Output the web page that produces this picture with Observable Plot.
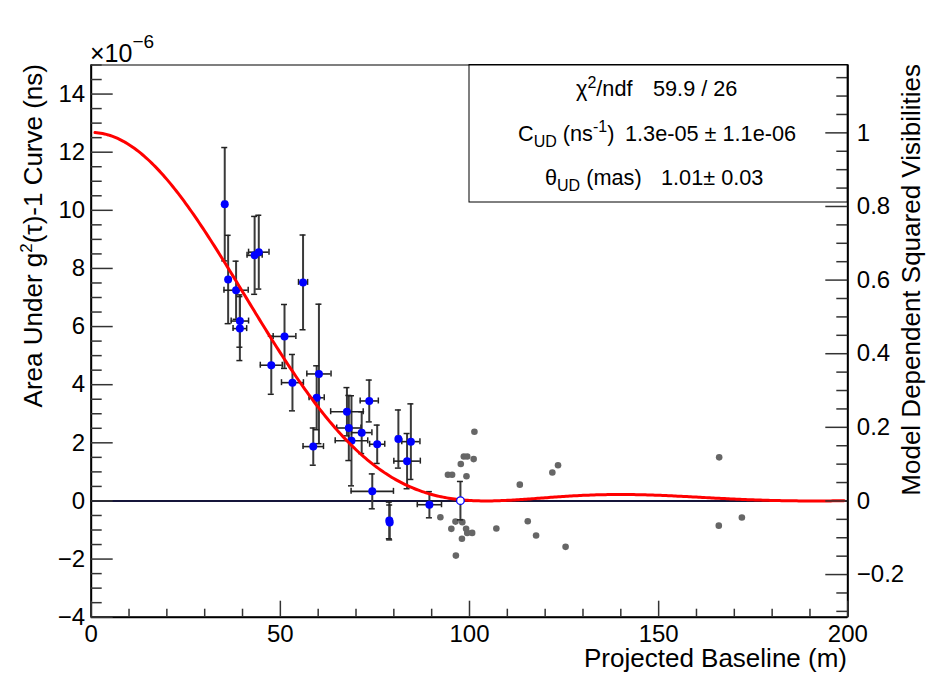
<!DOCTYPE html>
<html><head><meta charset="utf-8">
<script src="https://cdn.jsdelivr.net/npm/d3@7"></script>
<script src="https://cdn.jsdelivr.net/npm/@observablehq/plot@0.6"></script>
<style>
html,body{margin:0;padding:0;background:#fff;overflow:hidden;}
#chart svg{display:block;}
</style>
</head><body><div id="chart"></div>
<script>
// ---- Data (y in units of 1e-6 ns) ----
const blueX  = [35.3, 36.2, 38.3, 39.3, 39.3, 43.2, 44.3, 56.0, 51.1, 47.6, 53.2, 60.2, 59.6, 58.7, 67.6, 73.5, 68.1, 71.5, 68.8, 75.6, 81.2, 84.5, 83.5, 74.3, 78.8, 78.9, 89.4];
const blueY  = [10.21, 7.62, 7.25, 6.19, 5.93, 8.45, 8.56, 7.52, 5.66, 4.67, 4.07, 4.37, 3.55, 1.87, 3.07, 3.44, 2.51, 2.35, 2.07, 1.95, 2.13, 2.04, 1.37, 0.33, -0.67, -0.74, -0.13];
const blueEY = [1.95, 1.52, 1.0, 0.9, 1.1, 1.34, 1.27, 1.63, 1.1, 1.0, 0.97, 2.4, 1.1, 0.64, 0.83, 0.72, 1.12, 0.72, 1.55, 0.66, 1.0, 1.3, 0.95, 0.6, 0.63, 0.6, 0.45];
const blueEX = [0.5, 0.3, 3.2, 2.3, 1.8, 2.0, 2.7, 1.2, 3.0, 2.9, 2.9, 3.2, 2.0, 2.7, 4.3, 2.4, 3.2, 2.7, 4.3, 2.0, 0.5, 2.4, 3.5, 5.6, 0.3, 0.3, 3.2];

const openX = [97.6];
const openY = [0.01];
const openEY = [0.66];

const grayX = [101.3, 98.5, 99.4, 101.1, 97.7, 94.3, 95.4, 99.2, 113.3, 121.9, 123.4, 92.3, 96.3, 98.1, 95.2, 99.1, 99.4, 100.7, 107.1, 115.4, 117.6, 98.0, 96.4, 125.4, 166.0, 165.9, 172.0];
const grayY = [2.38, 1.53, 1.53, 1.44, 1.27, 0.90, 0.90, 0.85, 0.56, 0.98, 1.23, -0.56, -0.71, -0.73, -0.96, -0.96, -1.10, -1.10, -0.95, -0.70, -1.19, -1.30, -1.88, -1.58, 1.50, -0.85, -0.57];

// fit parameters (uniform disk)
const fitC = 12.68;        // 1e-6 ns, amplitude
const thetaMas = 1.01;     // angular diameter
const lambdaNm = 419;      // wavelength
const fitRange = [1, 199];

// axes
const xMajor = [0, 50, 100, 150, 200];
const yMajor = [-4, -2, 0, 2, 4, 6, 8, 10, 12, 14];
const rightMajor = [-0.2, 0, 0.2, 0.4, 0.6, 0.8, 1];
const rightScale = 12.665; // left units per 1 right-axis unit

// ---- build tables ----
const blue = blueX.map((x, i) => ({x, y: blueY[i], ex: blueEX[i], ey: blueEY[i]}));
const open = openX.map((x, i) => ({x, y: openY[i], ey: openEY[i]}));
const gray = grayX.map((x, i) => ({x, y: grayY[i]}));

function besselJ1(u) {
  let sum = 0, term = u / 2;
  for (let k = 0; k < 40; k++) { sum += term; term *= -(u * u / 4) / ((k + 1) * (k + 2)); }
  return sum;
}
const thetaRad = thetaMas * Math.PI / (180 * 3600 * 1000);
function model(b) {
  const u = Math.PI * b * thetaRad / (lambdaNm * 1e-9);
  const v = u === 0 ? 1 : 2 * besselJ1(u) / u;
  return fitC * v * v;
}
const fitCurve = d3.range(fitRange[0], fitRange[1] + 1e-9, 0.5).map(b => ({x: b, y: model(b)}));

const xMinor = d3.range(0, 201, 10).filter(v => v % 50 !== 0);
const yMinor = d3.range(-4, 15.01, 0.5).filter(v => v % 2 !== 0);
const rMinor = d3.range(-0.3, 1.151, 0.05).map(v => Math.round(v * 100) / 100)
  .filter(v => Math.abs(Math.round(v * 5) - v * 5) > 1e-6);

// ---- layout ----
const W = 931, H = 677, mL = 90.7, mR = 83.7, mT = 64.5, mB = 60.3;
const innerW = W - mL - mR, innerH = H - mT - mB;
const font = "Liberation Sans, Arial, Helvetica, sans-serif";
const minus = v => (v < 0 ? "\u2212" + Math.abs(v) : String(v));

const capW = 3, ebColor = "#3a3a3a";

const plot = Plot.plot({
  width: W, height: H,
  marginLeft: mL, marginRight: mR, marginTop: mT, marginBottom: mB,
  style: {fontFamily: font, fontSize: "24px", color: "black", background: "white"},
  x: {domain: [0, 200]},
  y: {domain: [-4, 15]},
  marks: [
    Plot.ruleY([0], {stroke: "#15153a", strokeWidth: 2}),
    Plot.dot(gray, {x: "x", y: "y", r: 3.3, fill: "#666", stroke: "none"}),
    // vertical error bars
    Plot.ruleX(blue, {x: "x", y1: d => d.y - d.ey, y2: d => d.y + d.ey, stroke: ebColor, strokeWidth: 2}),
    Plot.ruleY(blue, {y: d => d.y + d.ey, x1: "x", x2: "x", insetLeft: -capW, insetRight: -capW, stroke: "#222", strokeWidth: 1.5}),
    Plot.ruleY(blue, {y: d => d.y - d.ey, x1: "x", x2: "x", insetLeft: -capW, insetRight: -capW, stroke: "#222", strokeWidth: 1.5}),
    // horizontal error bars
    Plot.ruleY(blue, {y: "y", x1: d => d.x - d.ex, x2: d => d.x + d.ex, stroke: "#222", strokeWidth: 1.6}),
    Plot.ruleX(blue, {x: d => d.x - d.ex, y1: "y", y2: "y", insetTop: -capW, insetBottom: -capW, stroke: "#222", strokeWidth: 1.5}),
    Plot.ruleX(blue, {x: d => d.x + d.ex, y1: "y", y2: "y", insetTop: -capW, insetBottom: -capW, stroke: "#222", strokeWidth: 1.5}),
    Plot.dot(blue, {x: "x", y: "y", r: 4, fill: "#0000ff", stroke: "none"}),
    // open point
    Plot.ruleX(open, {x: "x", y1: d => d.y - d.ey, y2: d => d.y + d.ey, stroke: ebColor, strokeWidth: 2}),
    Plot.ruleY(open, {y: d => d.y + d.ey, x1: "x", x2: "x", insetLeft: -capW, insetRight: -capW, stroke: "#222", strokeWidth: 1.5}),
    Plot.ruleY(open, {y: d => d.y - d.ey, x1: "x", x2: "x", insetLeft: -capW, insetRight: -capW, stroke: "#222", strokeWidth: 1.5}),
    // fit curve
    Plot.line(fitCurve, {x: "x", y: "y", stroke: "#ff0000", strokeWidth: 3, curve: "linear"}),
    Plot.dot(open, {x: "x", y: "y", r: 3.8, fill: "white", stroke: "#0000ff", strokeWidth: 1.3}),
    // frame and axis lines
    Plot.frame({stroke: "black", strokeWidth: 1}),
    Plot.ruleX([0, 200], {stroke: "black", strokeWidth: 2}),
    Plot.ruleY([-4], {stroke: "black", strokeWidth: 2}),
    // ticks (inward)
    Plot.tickX(xMajor, {x: d => d, insetTop: innerH - 16, stroke: "#333", strokeWidth: 1.5}),
    Plot.tickX(xMinor, {x: d => d, insetTop: innerH - 8, stroke: "#333", strokeWidth: 1.5}),
    Plot.tickY(yMajor, {y: d => d, insetRight: innerW - 22, stroke: "#333", strokeWidth: 1.5}),
    Plot.tickY(yMinor, {y: d => d, insetRight: innerW - 11, stroke: "#333", strokeWidth: 1.5}),
    Plot.tickY(rightMajor, {y: d => d * rightScale, insetLeft: innerW - 22, stroke: "#333", strokeWidth: 1.5}),
    Plot.tickY(rMinor, {y: d => d * rightScale, insetLeft: innerW - 11, stroke: "#333", strokeWidth: 1.5}),
    // tick labels
    Plot.axisX({ticks: xMajor, tickSize: 0, tickPadding: 8, fontSize: 24, label: null, tickFormat: d => String(d)}),
    Plot.axisY({ticks: yMajor, anchor: "left", tickSize: 0, tickPadding: 6, fontSize: 24, label: null, tickFormat: minus}),
    Plot.axisY({ticks: rightMajor.map(v => v * rightScale), anchor: "right", tickSize: 0, tickPadding: 9, fontSize: 24, label: null,
      tickFormat: d => minus(Math.round(d / rightScale * 10) / 10)})
  ]
});

document.getElementById("chart").appendChild(plot);

// ---- titles & stats box ----
const svg = d3.select(plot);
const g = svg.append("g").attr("font-family", font).attr("fill", "black")
  .attr("text-anchor", "start").style("white-space", "pre");

g.append("text").attr("x", 847).attr("y", 667).attr("text-anchor", "end").attr("font-size", 26)
  .text("Projected Baseline (m)");

const lt = g.append("text").attr("transform", "translate(41.5,64) rotate(-90)").attr("text-anchor", "end").attr("font-size", 26);
lt.append("tspan").text("Area Under g");
lt.append("tspan").attr("font-size", 17).attr("dy", -10).text("2");
lt.append("tspan").attr("dy", 10).text("(\u03c4)-1 Curve (ns)");

g.append("text").attr("transform", "translate(920,64) rotate(-90)").attr("text-anchor", "end").attr("font-size", 26)
  .text("Model Dependent Squared Visibilities");

const ex = g.append("text").attr("x", 90).attr("y", 62).attr("font-size", 25);
ex.append("tspan").text("\u00d710");
ex.append("tspan").attr("font-size", 19).attr("dy", -14).text("\u22126");

g.append("rect").attr("x", 469).attr("y", 64.5).attr("width", 847.3 - 469).attr("height", 202 - 64.5)
  .attr("fill", "none").attr("stroke", "black").attr("stroke-width", 1);

const fs = 21.7, sub = 16;
// line 1
const l1 = g.append("text").attr("x", 576).attr("y", 96).attr("font-size", fs);
l1.append("tspan").text("\u03c7");
l1.append("tspan").attr("font-size", sub).attr("dy", -8).text("2");
l1.append("tspan").attr("dy", 8).text("/ndf");
g.append("text").attr("x", 653).attr("y", 96).attr("font-size", fs).text("59.9 / 26");
// line 2
const l2 = g.append("text").attr("x", 518).attr("y", 141).attr("font-size", fs);
l2.append("tspan").text("C");
l2.append("tspan").attr("font-size", sub).attr("dy", 6).text("UD");
l2.append("tspan").attr("dy", -6).text(" (ns");
l2.append("tspan").attr("font-size", sub).attr("dy", -9).text("-1");
l2.append("tspan").attr("dy", 9).text(")");
g.append("text").attr("x", 625).attr("y", 141).attr("font-size", fs).text("1.3e-05 \u00b1 1.1e-06");
// line 3
const l3 = g.append("text").attr("x", 545).attr("y", 185).attr("font-size", fs);
l3.append("tspan").text("\u03b8");
l3.append("tspan").attr("font-size", sub).attr("dy", 6).text("UD");
l3.append("tspan").attr("dy", -6).text(" (mas)");
g.append("text").attr("x", 661).attr("y", 185).attr("font-size", fs).text("1.01\u00b1 0.03");
</script>
</body></html>
